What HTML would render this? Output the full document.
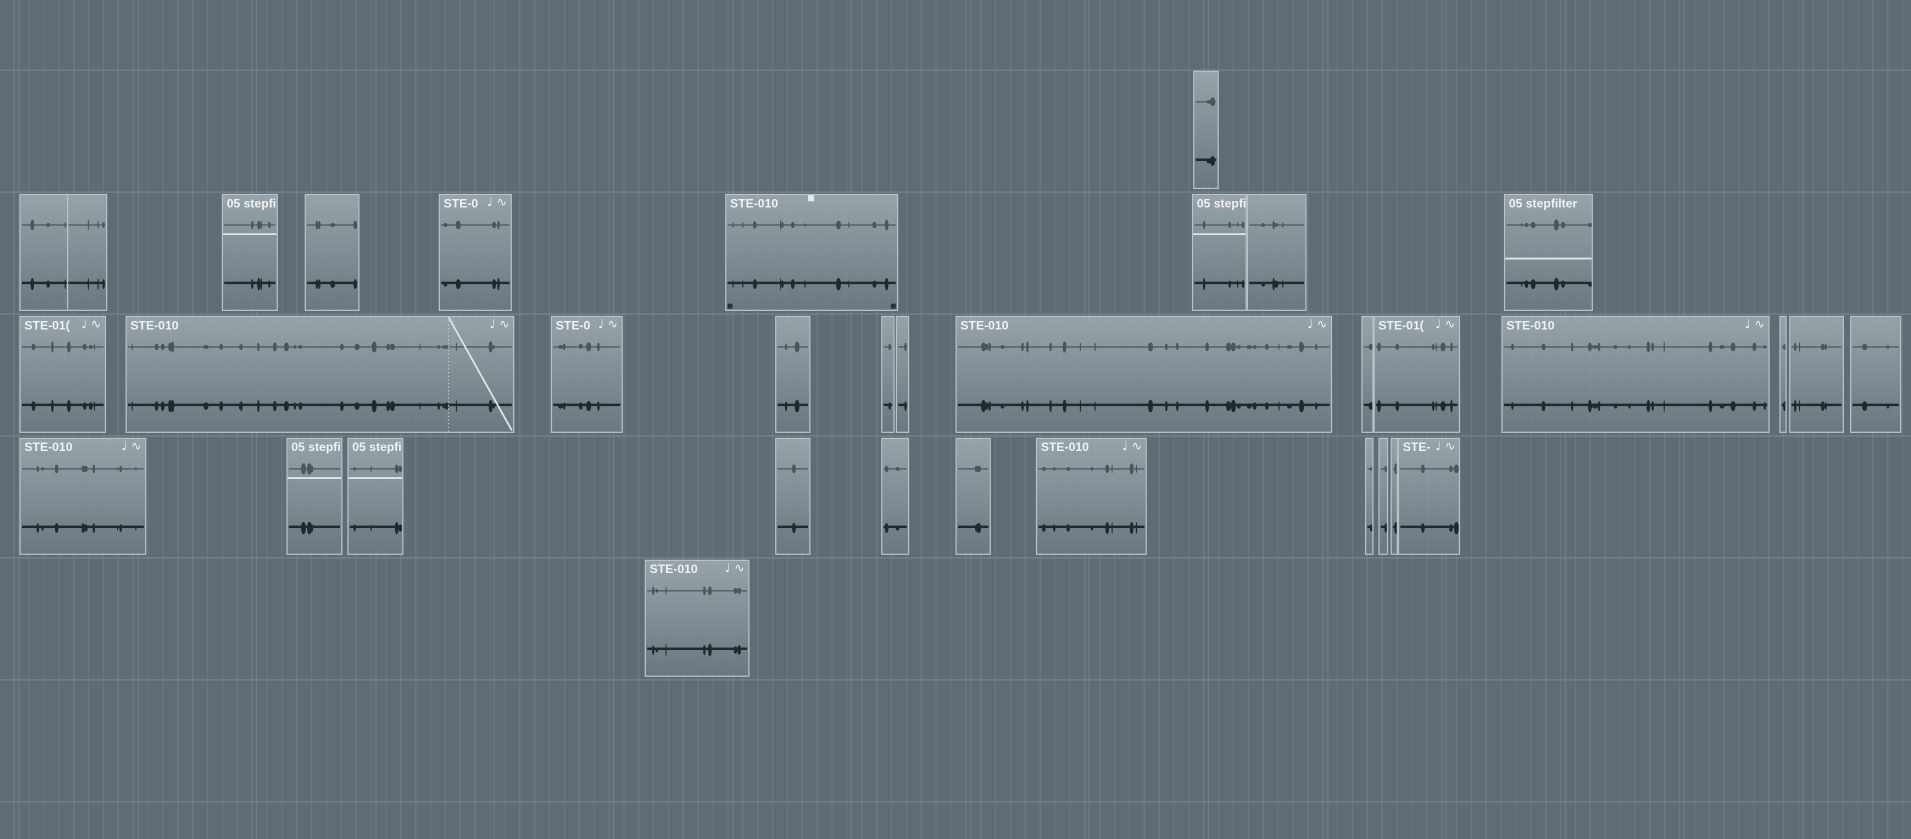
<!DOCTYPE html>
<html><head><meta charset="utf-8"><style>
html,body{margin:0;padding:0;width:1911px;height:839px;overflow:hidden;background:#5e6c76;}
#w{position:absolute;left:0;top:0;width:1568px;height:688px;transform-origin:0 0;transform:scale(1.21875,1.2195);background-color:#5e6c76;
background-image:repeating-linear-gradient(90deg,transparent 0,transparent 11.2px,#6b7983 11.2px,#6b7983 12.2px);}
.h{position:absolute;left:0;width:1568px;height:1px;background:#76858f;}
.v{position:absolute;top:0;height:688px;width:1px;background:#7a8993;opacity:.6}
.b{position:absolute;box-sizing:border-box;border:1px solid #b9c4ca;overflow:hidden;
background-image:linear-gradient(rgba(155,167,173,.93),rgba(106,120,129,.93)),repeating-linear-gradient(90deg,transparent 0,transparent 11.2px,#7f8d96 11.2px,#7f8d96 12.2px);}
.t{position:absolute;left:3px;top:2px;font:bold 10px "Liberation Sans",sans-serif;color:#eef2f4;white-space:nowrap;}
.i{position:absolute;right:3px;top:1px;font:10px "DejaVu Sans",sans-serif;color:#eef2f4;}
.l1{position:absolute;left:1px;right:1px;top:24px;height:1px;background:#4a555c;}
.l2{position:absolute;left:1px;right:1px;top:71px;height:2px;background:#22292e;}
.e{position:absolute;border-radius:50%;}
</style></head><body><div id="w"></div>
<script>
var w=document.getElementById('w');
[57,157,257,357,457,557,657].forEach(function(y){var d=document.createElement('div');d.className='h';d.style.top=y+'px';w.appendChild(d);});
for(var x=15;x<1568;x+=97.6){var d=document.createElement('div');d.className='v';d.style.left=Math.round(x)+'px';w.appendChild(d);}
var R={1:159,2:259,3:359,4:459};
var B=[
[0,979,1000,'',0,58],
[1,16,88,'',0],[1,182,228,'05 stepfi',0],[1,250,295,'',0],[1,360,420,'STE-0',1],[1,595,737,'STE-010',0],[1,978,1023,'05 stepfi',0],[1,1023,1072,'',0],[1,1234,1307,'05 stepfilter',0],
[2,16,87,'STE-01(',1],[2,103,422,'STE-010',1],[2,452,511,'STE-0',1],[2,636,665,'',0],[2,723,734,'',0],[2,735,746,'',0],[2,784,1093,'STE-010',1],[2,1117,1127,'',0],[2,1127,1198,'STE-01(',1],[2,1232,1452,'STE-010',1],[2,1460,1466,'',0],[2,1468,1513,'',0],[2,1518,1560,'',0],
[3,16,120,'STE-010',1],[3,235,281,'05 stepfi',0],[3,285,331,'05 stepfi',0],[3,636,665,'',0],[3,723,746,'',0],[3,784,813,'',0],[3,850,941,'STE-010',1],[3,1120,1127,'',0],[3,1131,1139,'',0],[3,1141,1147,'',0],[3,1147,1198,'STE-',1],
[4,529,615,'STE-010',1]];
function rnd(s){return function(){s=(s*9301+49297)%233280;return s/233280;}}
B.forEach(function(b,k){
var d=document.createElement('div');d.className='b';
var top=b[0]==0?58:R[b[0]];var h=b[0]==0?97:96;
d.style.left=b[1]+'px';d.style.top=top+'px';d.style.width=(b[2]-b[1])+'px';d.style.height=h+'px';
var html='';
if(b[3])html+='<div class="t">'+b[3]+'</div>';
if(b[4])html+='<div class="i">&#9833; &#8767;</div>';
html+='<div class="l1"></div><div class="l2"></div>';
var r=rnd(k*77+13),wd=b[2]-b[1];
var n=Math.max(1,Math.round(wd/12));
for(var j=0;j<n;j++){var x=r()*(wd-6)+2,hh=2+r()*7,ww=1+r()*3;
html+='<div class="e" style="left:'+x+'px;top:'+(24.5-hh/2)+'px;width:'+ww+'px;height:'+hh+'px;background:#4a555c"></div>';
html+='<div class="e" style="left:'+x+'px;top:'+(72-hh/2)+'px;width:'+ww+'px;height:'+(hh+2)+'px;background:#22292e"></div>';}
d.innerHTML=html;w.appendChild(d);
});
var s=document.createElement('div');s.style.cssText='position:absolute;left:55px;top:160px;width:1px;height:94px;background:#b9c4ca';w.appendChild(s);
var svg='<svg style="position:absolute;left:0;top:0" width="1568" height="688"><line x1="368" y1="260" x2="420" y2="353" stroke="#dde3e6" stroke-width="1.5"/><line x1="368" y1="260" x2="368" y2="354" stroke="#c5cdd1" stroke-dasharray="1 2"/><rect x="663" y="160" width="5" height="5" fill="#e6eaec"/><rect x="597" y="249" width="4" height="4" fill="#2b3236"/><rect x="731" y="249" width="4" height="4" fill="#2b3236"/><line x1="183" y1="192" x2="227" y2="192" stroke="#e0e5e8" stroke-width="1.5"/><line x1="979" y1="192" x2="1022" y2="192" stroke="#e0e5e8" stroke-width="1.5"/><line x1="236" y1="392" x2="280" y2="392" stroke="#e0e5e8" stroke-width="1.5"/><line x1="286" y1="392" x2="330" y2="392" stroke="#e0e5e8" stroke-width="1.5"/><line x1="1235" y1="212" x2="1306" y2="212" stroke="#e0e5e8" stroke-width="1.5"/></svg>';
w.insertAdjacentHTML('beforeend',svg);
</script></body></html>
